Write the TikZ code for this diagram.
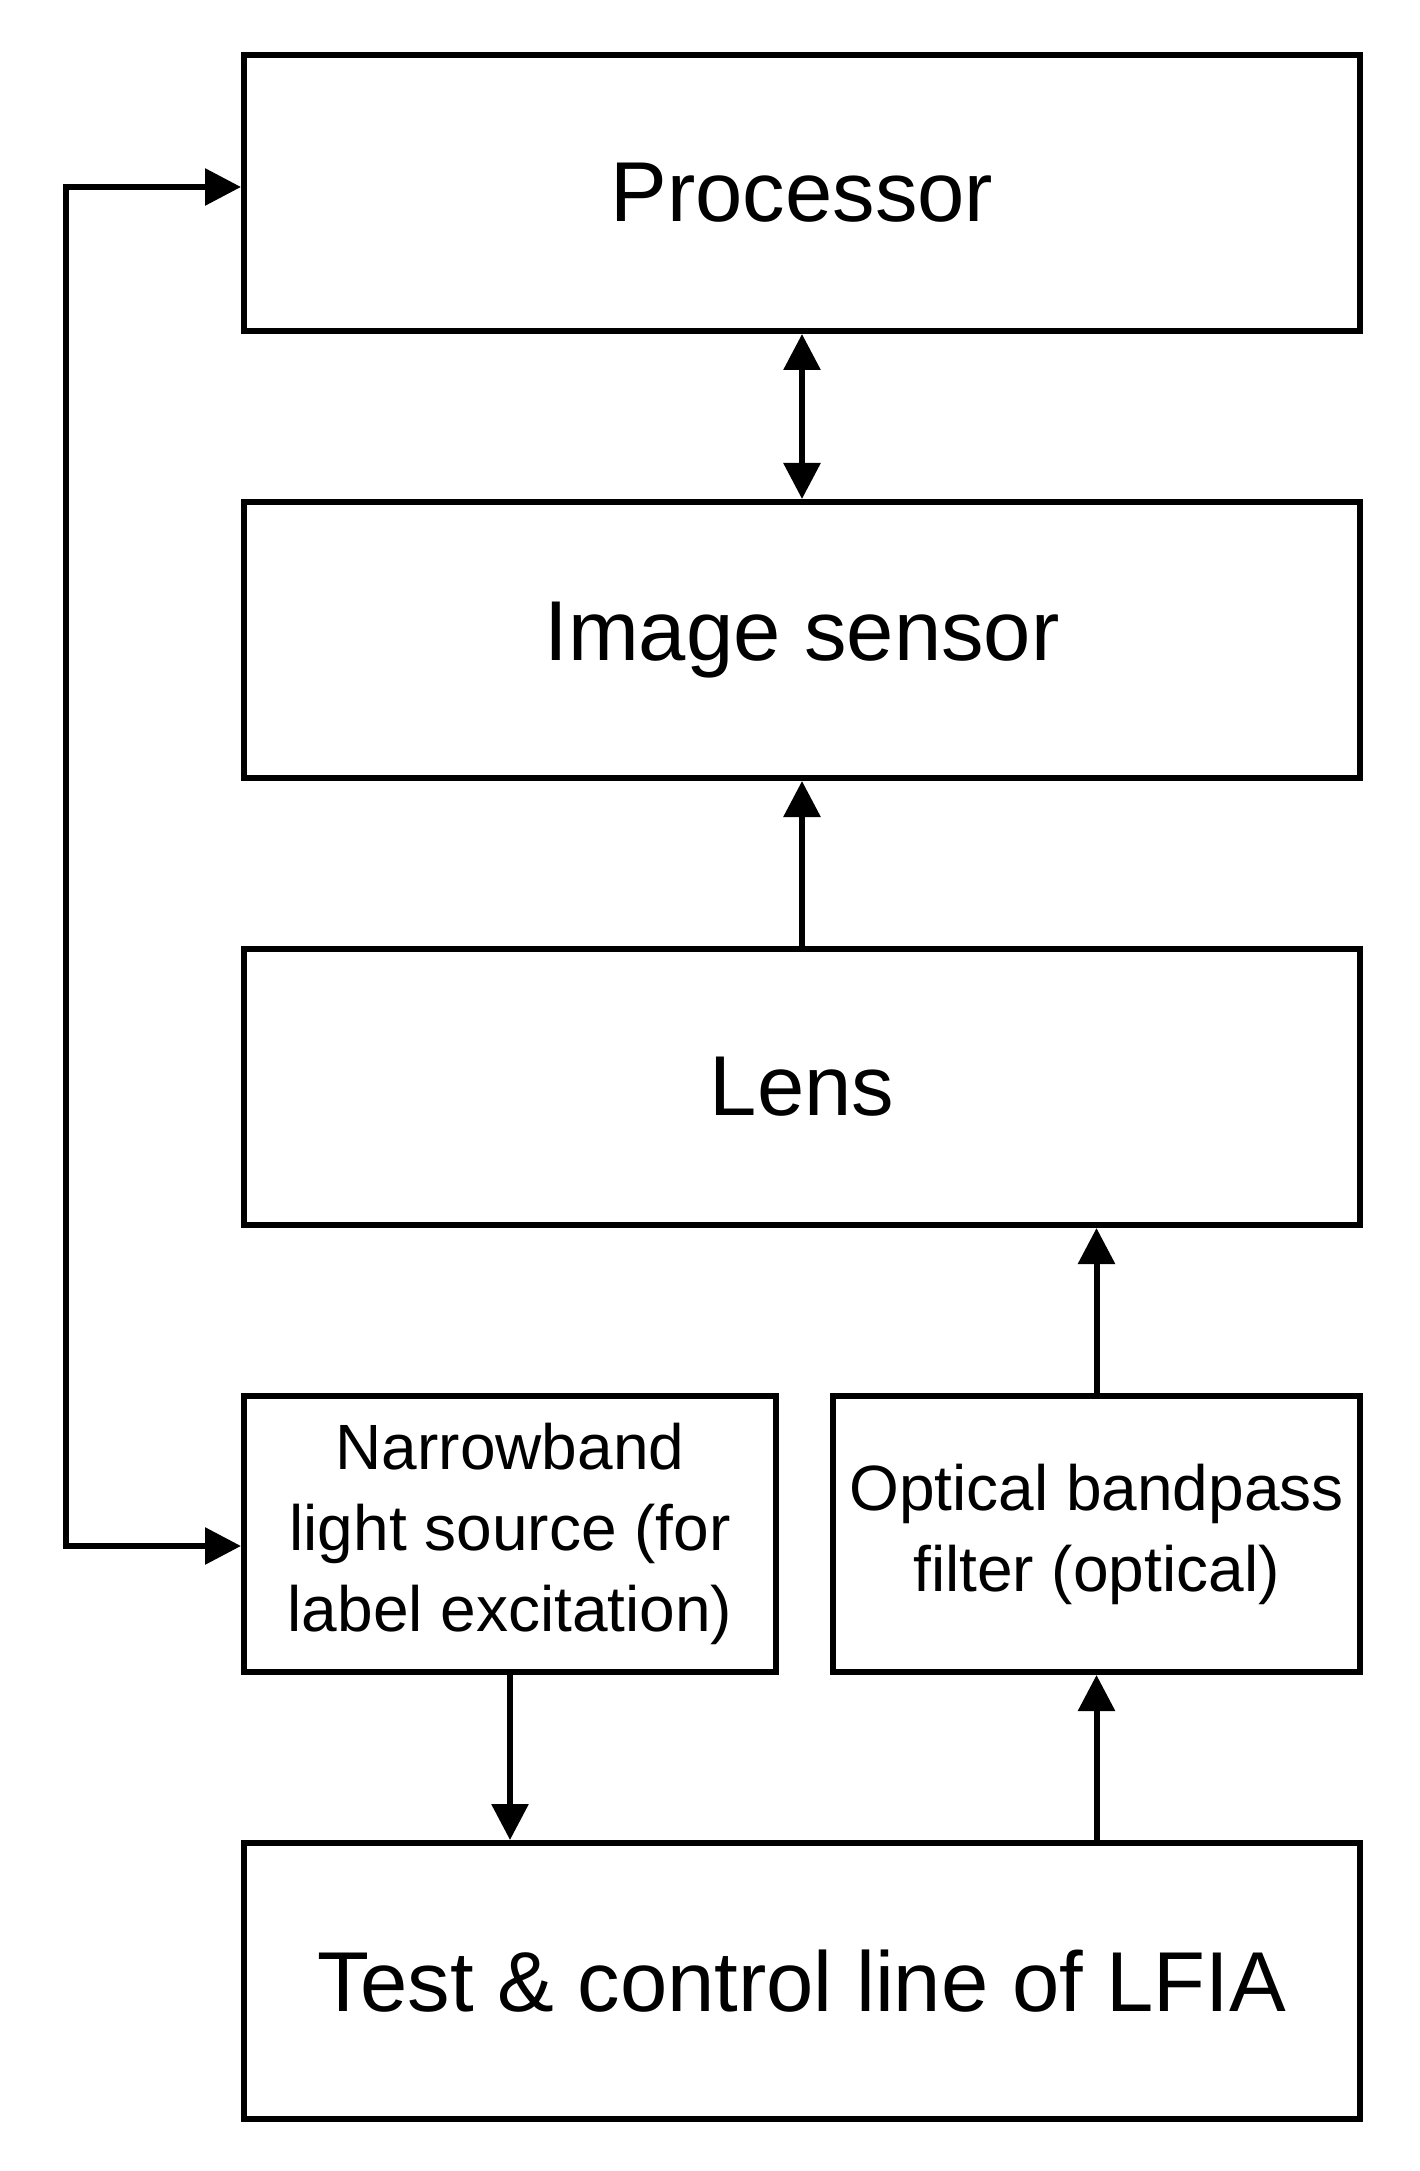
\documentclass[tikz,border=0pt]{standalone}
\usepackage{fontspec}
\setmainfont{Liberation Sans}
\usetikzlibrary{
  arrows.meta,
  positioning,
  calc,
}
\tikzset{
  blockbox/.style={
    rectangle, draw=black, line width=3pt, fill=white,
    minimum width=558pt, minimum height=138pt, inner sep=0pt,
    font=\fontsize{42.5}{50}\selectfont
  },
  subbox/.style={
    rectangle, draw=black, line width=3pt, fill=white,
    minimum height=138pt, inner sep=0pt, align=center,
    font=\fontsize{32}{40.5}\selectfont
  },
  bigarrow/.style={-{Triangle[length=18pt, width=18pt]}, line width=3pt, black},
  dualarrow/.style={{Triangle[length=18pt, width=18pt]}-{Triangle[length=18pt, width=18pt]}, line width=3pt, black},
}

\begin{document}
\begin{tikzpicture}[x=0.5pt, y=-0.5pt, node distance=82.5pt]

  \useasboundingbox (0,0) rectangle (1419,2171);

  % ── Main column ──
  \node[blockbox] (proc) at (802,193) {Processor};
  \node[blockbox, below=of proc] (sensor) {Image sensor};
  \node[blockbox, below=of sensor] (lens) {Lens};

  % ── Light source and filter row ──
  \node[subbox, minimum width=266pt, below=of lens.south west, anchor=north west] (light)
    {Narrowband\\light source (for\\label excitation)};
  \node[subbox, minimum width=263.5pt, below=of lens.south east, anchor=north east] (filter)
    {Optical bandpass\\filter (optical)};

  % ── Sample ──
  \coordinate (rowbot) at (lens.south |- light.south);
  \node[blockbox, below=of rowbot] (test) {Test \& control line of LFIA};

  % ── Arrows ──
  \draw[dualarrow] (proc) -- (sensor);
  \draw[bigarrow] (lens) -- (sensor);
  \draw[bigarrow] (filter.north) -- (filter.north |- lens.south);
  \draw[bigarrow] (filter.south |- test.north) -- (filter.south);
  \draw[bigarrow] (light.south) -- (light.south |- test.north);

  % ── Control line back to the light source ──
  \coordinate (bus) at (66,1000);
  \draw[dualarrow] ($(proc.west)+(0,-6)$) -| (bus) |- ($(light.west)+(0,12)$);

\end{tikzpicture}
\end{document}
